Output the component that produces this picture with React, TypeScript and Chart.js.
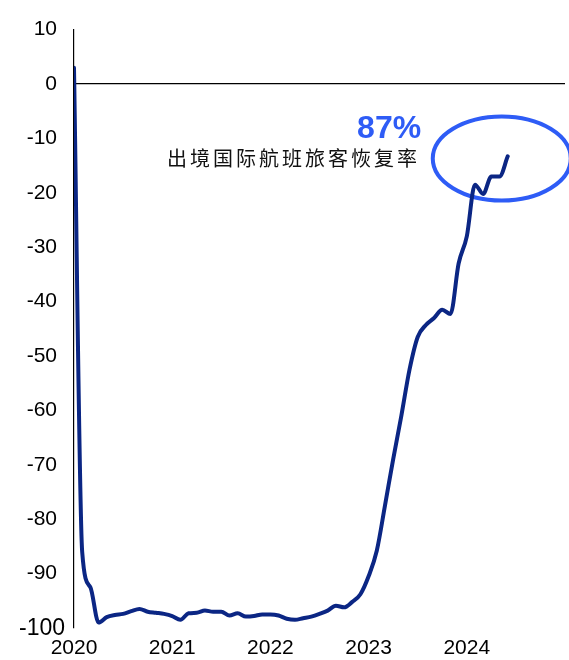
import { useEffect, useRef } from "react";
import { Chart, registerables } from "chart.js";

Chart.register(...registerables);

// Monthly observations (YYYY-MM) and the gap vs. 2019 level, in %
const months = [
  "2020-01", "2020-02", "2020-03", "2020-04", "2020-05", "2020-06",
  "2020-07", "2020-08", "2020-09", "2020-10", "2020-11", "2020-12",
  "2021-01", "2021-02", "2021-03", "2021-04", "2021-05", "2021-06",
  "2021-07", "2021-08", "2021-09", "2021-10", "2021-11", "2021-12",
  "2022-01", "2022-02", "2022-03", "2022-04", "2022-05", "2022-06",
  "2022-07", "2022-08", "2022-09", "2022-10", "2022-11", "2022-12",
  "2023-01", "2023-02", "2023-03", "2023-04", "2023-05", "2023-06",
  "2023-07", "2023-08", "2023-09", "2023-10", "2023-11", "2023-12",
  "2024-01", "2024-02", "2024-03", "2024-04", "2024-05", "2024-06",
];

const outboundGap = [
  3, -86, -92.5, -99, -98, -97.6,
  -97.4, -96.9, -96.5, -97, -97.2, -97.4,
  -97.8, -98.5, -97.3, -97.2, -96.8, -97,
  -97, -97.7, -97.3, -97.9, -97.8, -97.5,
  -97.5, -97.7, -98.3, -98.5, -98.2, -97.9,
  -97.4, -96.8, -95.9, -96.2, -95.2, -93.8,
  -90.5, -85.8, -77.5, -69, -61, -52.5,
  -46.5, -44.3, -43, -41.5, -42.3, -33,
  -28, -18.5, -20.2, -17, -17, -13.3,
];

const yearTicks = [2020, 2021, 2022, 2023, 2024];
const yTicks = [10, 0, -10, -20, -30, -40, -50, -60, -70, -80, -90, -100];
const floorTick = -100;

const headline = "87%";
const caption = "出境国际航班旅客恢复率";

// Annotation anchors, in axis units
const ringSpot = { x: 2024.356, y: -13.7, rx: 69, ry: 42 };
const headlineSpot = { x: 2023.535, y: -9.85 };
const captionSpot = { x: 2020.947, y: -13.7 };

const NAVY = "#0b2684";
const BLUE = "#2e5cf6";
const SANS = "'Liberation Sans', Arial, sans-serif";

const toYear = (m: string) => {
  const [y, mo] = m.split("-").map(Number);
  return y + (mo - 1) / 12;
};

const annotations = {
  id: "recoveryNotes",
  beforeDatasetsDraw(chart: any) {
    const { ctx, scales } = chart;
    const x = scales.x;
    const y = scales.y;
    ctx.save();
    ctx.beginPath();
    ctx.ellipse(
      x.getPixelForValue(ringSpot.x),
      y.getPixelForValue(ringSpot.y),
      ringSpot.rx,
      ringSpot.ry,
      0,
      0,
      Math.PI * 2
    );
    ctx.strokeStyle = BLUE;
    ctx.lineWidth = 4;
    ctx.stroke();
    ctx.restore();
  },
  afterDatasetsDraw(chart: any) {
    const { ctx, scales } = chart;
    const x = scales.x;
    const y = scales.y;
    ctx.save();
    // bottom y label, set slightly larger and closer to the axis
    ctx.fillStyle = "#000";
    ctx.font = `23px ${SANS}`;
    ctx.textAlign = "right";
    ctx.textBaseline = "middle";
    ctx.fillText(String(floorTick), y.left + y.width - 9, y.getPixelForValue(floorTick) + 1);

    ctx.fillStyle = BLUE;
    ctx.font = `bold 32px ${SANS}`;
    ctx.textAlign = "right";
    ctx.textBaseline = "alphabetic";
    ctx.fillText(headline, x.getPixelForValue(headlineSpot.x), y.getPixelForValue(headlineSpot.y));

    ctx.fillStyle = "#111";
    ctx.font = `20px 'Noto Sans CJK SC', sans-serif`;
    (ctx as any).letterSpacing = "3px";
    ctx.textAlign = "left";
    ctx.textBaseline = "middle";
    ctx.fillText(caption, x.getPixelForValue(captionSpot.x), y.getPixelForValue(captionSpot.y));
    ctx.restore();
  },
};

export default function App() {
  const canvasRef = useRef<HTMLCanvasElement | null>(null);

  useEffect(() => {
    const canvas = canvasRef.current;
    if (!canvas) return;

    const chart = new Chart(canvas, {
      type: "line",
      data: {
        datasets: [
          {
            data: months.map((m, i) => ({ x: toYear(m), y: outboundGap[i] })),
            borderColor: NAVY,
            borderWidth: 4,
            pointRadius: 0,
            cubicInterpolationMode: "monotone",
            fill: false,
            borderCapStyle: "round",
            borderJoinStyle: "round",
          },
        ],
      },
      options: {
        responsive: false,
        animation: false,
        layout: { padding: { top: 25, right: 4, left: 0, bottom: 0 } },
        plugins: {
          legend: { display: false },
          tooltip: { enabled: false },
        },
        scales: {
          x: {
            type: "linear",
            min: 2020,
            max: 2025,
            afterBuildTicks: (scale: any) => {
              scale.ticks = yearTicks.map((v) => ({ value: v }));
            },
            afterFit: (scale: any) => {
              scale.height = 32;
            },
            grid: { display: false, drawTicks: false },
            border: { display: false },
            ticks: {
              color: "#000",
              font: { family: SANS, size: 21 },
              padding: 8,
              maxRotation: 0,
              autoSkip: false,
              callback: (v: any) => String(v),
            },
          },
          y: {
            min: -100,
            max: 10,
            afterBuildTicks: (scale: any) => {
              scale.ticks = yTicks.map((v) => ({ value: v }));
            },
            afterFit: (scale: any) => {
              scale.width = 74;
            },
            grid: {
              drawTicks: false,
              color: (c: any) => (c.tick && c.tick.value === 0 ? "#000" : "rgba(0,0,0,0)"),
              lineWidth: 1.2,
            },
            border: { display: true, color: "#000", width: 1.2 },
            ticks: {
              color: "#000",
              font: { family: SANS, size: 21 },
              padding: 17,
              callback: (v: any) => (v === floorTick ? "" : String(v)),
            },
          },
        },
      },
      plugins: [annotations],
    });

    return () => chart.destroy();
  }, []);

  return (
    <div style={{ position: "fixed", left: 0, top: 0, width: 569, height: 660, background: "#fff" }}>
      <canvas ref={canvasRef} width={569} height={660} style={{ display: "block" }} />
    </div>
  );
}
